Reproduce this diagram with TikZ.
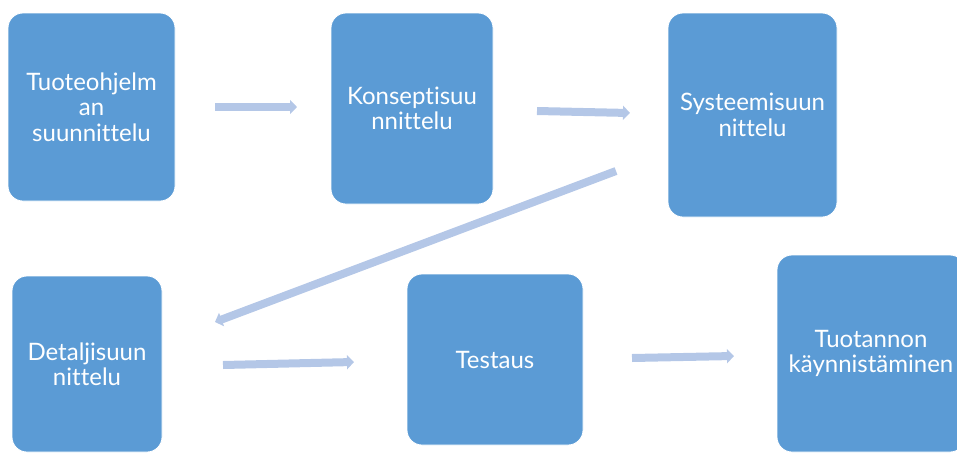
\documentclass[tikz,border=0pt]{standalone}
\usepackage{fontspec}
\setmainfont{Lato}[Ligatures={NoCommon}]
\usetikzlibrary{arrows.meta}
\definecolor{boxblue}{HTML}{5B9BD5}
\definecolor{arrblue}{HTML}{B4C7E7}
\tikzset{
  stage/.style={fill=boxblue, draw=white, line width=0.8pt, rounded corners=15pt,
    inner sep=0pt, align=center, text=white,
    font=\fontsize{24}{25.5}\selectfont},
  flow/.style={draw=arrblue, line width=8pt,
    -{Triangle[length=7pt 0 0, width=14pt 0 0]}}
}
\begin{document}
\begin{tikzpicture}[x=1pt,y=-1pt]
\useasboundingbox (0,0) rectangle (957,453);
\clip (0,0) rectangle (957,453);
\node[stage, minimum width=167pt, minimum height=188pt] (b1) at (91.5,107) {Tuoteohjelm\\an\\suunnittelu};
\node[stage, minimum width=162pt, minimum height=191pt] (b2) at (412,108.5) {Konseptisuu\\nnittelu};
\node[stage, minimum width=169pt, minimum height=204pt] (b3) at (752.5,115) {Systeemisuun\\nittelu};
\node[stage, minimum width=150pt, minimum height=176pt] (b4) at (87,364) {Detaljisuun\\nittelu};
\node[stage, minimum width=176pt, minimum height=171pt] (b5) at (495,359.5) {Testaus};
\node[stage, minimum width=188pt, minimum height=197pt] (b6) at (871,353.5) {Tuotannon\\käynnistäminen};
\coordinate (a1s) at (215,107);
\coordinate (a1e) at (297,107);
\coordinate (a2s) at (537,111);
\coordinate (a2e) at (630,113);
\coordinate (a3s) at (616,171);
\coordinate (a3e) at (215,322);
\coordinate (a4s) at (223,365);
\coordinate (a4e) at (354,362);
\coordinate (a5s) at (632,358);
\coordinate (a5e) at (734,356);
\draw[flow] (a1s) -- (a1e);
\draw[flow] (a2s) -- (a2e);
\draw[flow] (a3s) -- (a3e);
\draw[flow] (a4s) -- (a4e);
\draw[flow] (a5s) -- (a5e);
\end{tikzpicture}
\end{document}
